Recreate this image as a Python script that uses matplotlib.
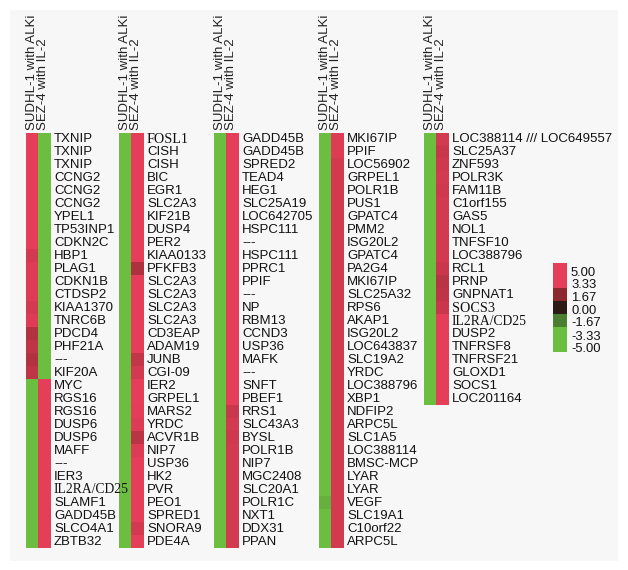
import matplotlib
matplotlib.use("Agg")
import matplotlib.pyplot as plt
import numpy as np
from matplotlib.colors import LinearSegmentedColormap, Normalize
from matplotlib.transforms import offset_copy
from matplotlib.patches import Rectangle

# ---------------- data ----------------
col_labels = ["SUDHL-1 with ALKi", "SEZ-4 with IL-2"]

genes1 = ["TXNIP", "TXNIP", "TXNIP", "CCNG2", "CCNG2", "CCNG2", "YPEL1", "TP53INP1",
          "CDKN2C", "HBP1", "PLAG1", "CDKN1B", "CTDSP2", "KIAA1370", "TNRC6B", "PDCD4",
          "PHF21A", "---", "KIF20A", "MYC", "RGS16", "RGS16", "DUSP6", "DUSP6", "MAFF",
          "---", "IER3", "IL2RA/CD25", "SLAMF1", "GADD45B", "SLCO4A1", "ZBTB32"]
sudhl1_p1 = [5, 5, 5, 5, 5, 5, 5, 4.5, 4.5, 3.0, 3.2, 3.2, 3.2, 3.0, 3.2, 2.4,
             2.6, 2.4, 2.6, -5, -5, -5, -5, -5, -4.5, -4.5, -5, -5, -5, -5, -5, -5]
sez4_p1 = [-5, -5, -5, -5, -5, -5, -5, -4.5, -4.5, -5, -5, -5, -5, -5, -5, -5,
           -5, -5, -5, 5, 5, 5, 5, 5, 5, 5, 5, 5, 5, 5, 5, 5]

genes2 = ["FOSL1", "CISH", "CISH", "BIC", "EGR1", "SLC2A3", "KIF21B", "DUSP4", "PER2",
          "KIAA0133", "PFKFB3", "SLC2A3", "SLC2A3", "SLC2A3", "SLC2A3", "CD3EAP", "ADAM19",
          "JUNB", "CGI-09", "IER2", "GRPEL1", "MARS2", "YRDC", "ACVR1B", "NIP7", "USP36",
          "HK2", "PVR", "PEO1", "SPRED1", "SNORA9", "PDE4A"]
sudhl1_p2 = [-5] * 32
sez4_p2 = [5, 5, 5, 5, 5, 5, 5, 5, 5, 4.5, 2.3, 4.0, 4.5, 4.5, 4.5, 4.5, 4.2,
           2.7, 3.0, 4.5, 4.2, 3.3, 3.2, 2.5, 3.2, 4.2, 5, 5, 4.5, 4.0, 3.0, 5]

genes3 = ["GADD45B", "GADD45B", "SPRED2", "TEAD4", "HEG1", "SLC25A19", "LOC642705",
          "HSPC111", "---", "HSPC111", "PPRC1", "PPIF", "---", "NP", "RBM13", "CCND3",
          "USP36", "MAFK", "---", "SNFT", "PBEF1", "RRS1", "SLC43A3", "BYSL", "POLR1B",
          "NIP7", "MGC2408", "SLC20A1", "POLR1C", "NXT1", "DDX31", "PPAN"]
sudhl1_p3 = [-5] * 32
sez4_p3 = [4.5, 4.5, 4.5, 4.5, 4.5, 4.5, 4.5, 4.5, 4.5, 4.5, 4.5, 4.5, 4.2, 4.2, 4.2,
           4.2, 4.2, 4.2, 4.2, 4.0, 3.8, 2.8, 3.0, 2.9, 3.0, 3.0, 3.0, 3.0, 3.0, 3.0, 3.0, 3.0]

genes4 = ["MKI67IP", "PPIF", "LOC56902", "GRPEL1", "POLR1B", "PUS1", "GPATC4", "PMM2",
          "ISG20L2", "GPATC4", "PA2G4", "MKI67IP", "SLC25A32", "RPS6", "AKAP1", "ISG20L2",
          "LOC643837", "SLC19A2", "YRDC", "LOC388796", "XBP1", "NDFIP2", "ARPC5L", "SLC1A5",
          "LOC388114", "BMSC-MCP", "LYAR", "LYAR", "VEGF", "SLC19A1", "C10orf22", "ARPC5L"]
sudhl1_p4 = [-5] * 28 + [-3.0, -4.0, -5, -5]
sez4_p4 = [3.2, 3.2, 3.0, 3.0, 3.0, 3.0, 3.0, 3.0, 3.0, 3.0, 3.0, 3.0, 3.0, 3.0, 3.0,
           3.0, 3.0, 3.0, 3.0, 3.0, 3.0, 3.0, 3.0, 3.0, 3.0, 3.0, 3.0, 3.0, 3.0, 3.0, 3.0, 3.0]

genes5 = ["LOC388114 /// LOC649557", "SLC25A37", "ZNF593", "POLR3K", "FAM11B", "C1orf155",
          "GAS5", "NOL1", "TNFSF10", "LOC388796", "RCL1", "PRNP", "GNPNAT1", "SOCS3",
          "IL2RA/CD25", "DUSP2", "TNFRSF8", "TNFRSF21", "GLOXD1", "SOCS1", "LOC201164"]
sudhl1_p5 = [-5] * 21
sez4_p5 = [3.0, 2.8, 2.9, 3.0, 2.9, 3.0, 3.0, 3.0, 3.0, 3.0, 2.8, 2.5, 2.6, 2.8,
           5, 5, 5, 5, 5, 5, 5]

legend_levels = [5.00, 3.33, 1.67, 0.00, -1.67, -3.33, -5.00]
legend_labels = ["5.00", "3.33", "1.67", "0.00", "-1.67", "-3.33", "-5.00"]

serif_sizes = {"FOSL1": 10.2, "IL2RA/CD25": 9.8, "SOCS3": 10.2}

# ---------------- style ----------------
W, H = 628, 570
fig = plt.figure(figsize=(W / 100, H / 100), dpi=100)
fig.patch.set_facecolor("white")
fig.patches.append(Rectangle((10 / W, 1 - 561 / H), 608 / W, 551 / H,
                             transform=fig.transFigure, facecolor="#f7f7f7",
                             edgecolor="none", zorder=-10))

def rgb(r, g, b):
    return (r / 255, g / 255, b / 255)

nodes = [(-5.0, rgb(108, 190, 64)), (-3.33, rgb(108, 190, 64)), (-1.67, rgb(78, 128, 50)),
         (0.0, rgb(42, 28, 22)), (1.67, rgb(140, 42, 48)), (3.33, rgb(228, 62, 88)),
         (5.0, rgb(228, 62, 88))]
cmap = LinearSegmentedColormap.from_list(
    "gr", [((v + 5) / 10, c) for v, c in nodes])
norm = Normalize(-5, 5)

sans = ["Liberation Sans", "DejaVu Sans"]
serif = ["Liberation Serif", "DejaVu Serif"]
txtcol = "#111111"

top = 133
row_h = 12.97
panel_w = 25
panels = [
    (26, genes1, sudhl1_p1, sez4_p1),
    (119, genes2, sudhl1_p2, sez4_p2),
    (214, genes3, sudhl1_p3, sez4_p3),
    (319, genes4, sudhl1_p4, sez4_p4),
    (424, genes5, sudhl1_p5, sez4_p5),
]

for idx, (left, genes, v1, v2) in enumerate(panels):
    n = len(genes)
    h = n * row_h
    ax = fig.add_axes([left / W, 1 - (top + h) / H, panel_w / W, h / H])
    ax.set_zorder(10 - idx)
    data = np.column_stack([v1, v2])
    ax.imshow(data, cmap=cmap, norm=norm, aspect="auto", interpolation="nearest")
    ax.set_axis_off()
    tr = offset_copy(ax.transData, fig=fig, x=3, y=0, units="dots")
    for i, g in enumerate(genes):
        if g in serif_sizes:
            fam, fs = serif, serif_sizes[g]
        else:
            fam, fs = sans, 9.5
        ax.text(1.5, i, g, transform=tr, ha="left", va="center",
                fontsize=fs, family=fam, color=txtcol, clip_on=False)
    # column headers
    for k, lab in enumerate(col_labels):
        fig.text((left + 6 + 11 * k) / W, 1 - 130 / H, lab, rotation=90,
                 ha="center", va="bottom", fontsize=9.5, family=sans, color="#222222")

# legend bar
lax = fig.add_axes([553 / W, 1 - 352 / H, 14 / W, 89 / H])
lax.imshow(np.array(legend_levels).reshape(-1, 1), cmap=cmap, norm=norm,
           aspect="auto", interpolation="nearest")
lax.set_axis_off()
label_y = [273, 285, 298, 311, 323, 337, 349]
for y, lab in zip(label_y, legend_labels):
    fig.text(571 / W, 1 - y / H, lab, ha="left", va="center", fontsize=9.4,
             family=sans, color=txtcol)

fig.savefig("out.png", dpi=100, facecolor=fig.get_facecolor())
